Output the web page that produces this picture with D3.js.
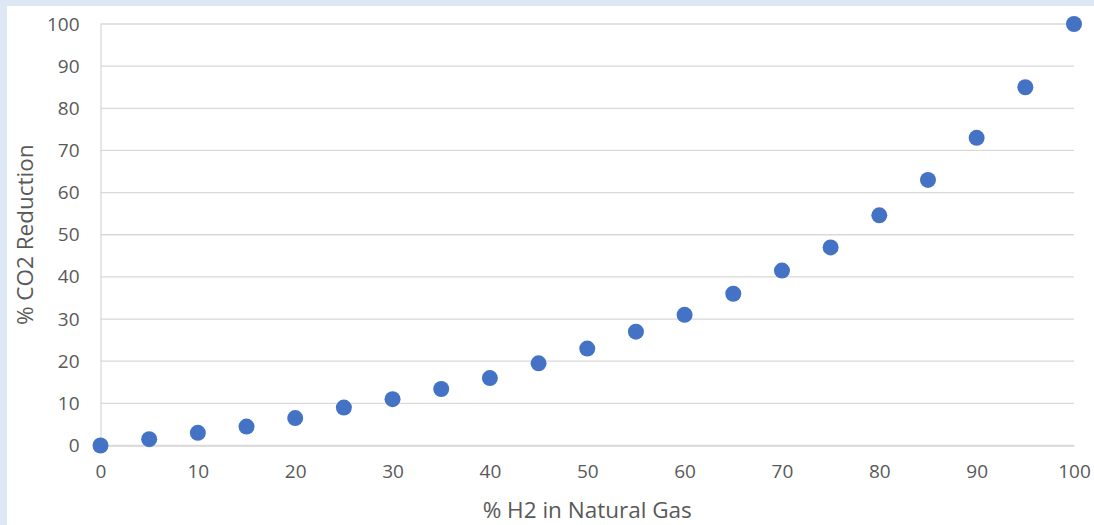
<!DOCTYPE html>
<html>
<head>
<meta charset="utf-8">
<script src="https://cdn.jsdelivr.net/npm/d3@7"></script>
<style>
  html, body { margin: 0; padding: 0; background: #dee8f4; }
  svg { display: block; }
  .axis text { fill: #595959; font-family: "Open Sans", sans-serif; font-size: 19px; }
</style>
</head>
<body>
<div id="chart"></div>
<script>
// % H2 blended into natural gas vs resulting % CO2 reduction
var h2Share = [0, 5, 10, 15, 20, 25, 30, 35, 40, 45, 50, 55, 60, 65, 70, 75, 80, 85, 90, 95, 100];
var co2Reduction = [0, 1.5, 3, 4.5, 6.5, 9, 11, 13.4, 16, 19.5, 23, 27, 31, 36, 41.5, 47, 54.6, 63, 73, 85, 100];
var xTicks = [0, 10, 20, 30, 40, 50, 60, 70, 80, 90, 100];
var yTicks = [0, 10, 20, 30, 40, 50, 60, 70, 80, 90, 100];

var width = 1094, height = 525;
var plotLeft = 100.5, plotRight = 1074, plotTop = 24, plotBottom = 445.5;

var svg = d3.select("#chart")
  .append("svg")
    .attr("width", width)
    .attr("height", height);

// white chart area inside the blue frame
svg.append("rect")
  .attr("x", 7)
  .attr("y", 6)
  .attr("width", width - 7)
  .attr("height", height - 6)
  .attr("fill", "#ffffff");

var x = d3.scaleLinear()
  .domain([0, 100])
  .range([plotLeft, plotRight]);

var y = d3.scaleLinear()
  .domain([0, 100])
  .range([plotBottom, plotTop]);

// horizontal gridlines
svg.append("g")
  .selectAll("line")
  .data(yTicks)
  .join("line")
    .attr("x1", plotLeft)
    .attr("x2", plotRight)
    .attr("y1", function(d) { return y(d); })
    .attr("y2", function(d) { return y(d); })
    .attr("stroke", "#d9d9d9")
    .attr("stroke-width", 1.3);

// y axis
var yAxis = svg.append("g")
  .attr("class", "axis")
  .attr("transform", "translate(" + plotLeft + ",0)")
  .call(d3.axisLeft(y).tickValues(yTicks).tickSize(0).tickPadding(21));
yAxis.select(".domain").attr("stroke", "#d9d9d9").attr("stroke-width", 1.3);

// x axis
var xAxis = svg.append("g")
  .attr("class", "axis")
  .attr("transform", "translate(0," + plotBottom + ")")
  .call(d3.axisBottom(x).tickValues(xTicks).tickSize(0).tickPadding(19));
xAxis.select(".domain").attr("stroke", "#d9d9d9").attr("stroke-width", 1.3);

// points
svg.append("g")
  .selectAll("circle")
  .data(h2Share)
  .join("circle")
    .attr("cx", function(d) { return x(d); })
    .attr("cy", function(d, i) { return y(co2Reduction[i]); })
    .attr("r", 8)
    .attr("fill", "#4472c4");

// axis titles
svg.append("text")
  .attr("x", (plotLeft + plotRight) / 2)
  .attr("y", 518)
  .attr("text-anchor", "middle")
  .style("font-family", "'Open Sans', sans-serif")
  .style("font-size", "22.5px")
  .style("fill", "#595959")
  .text("% H2 in Natural Gas");

svg.append("text")
  .attr("transform", "translate(33," + ((plotTop + plotBottom) / 2) + ") rotate(-90)")
  .attr("text-anchor", "middle")
  .style("font-family", "'Open Sans', sans-serif")
  .style("font-size", "22.5px")
  .style("fill", "#595959")
  .text("% CO2 Reduction");
</script>
</body>
</html>
